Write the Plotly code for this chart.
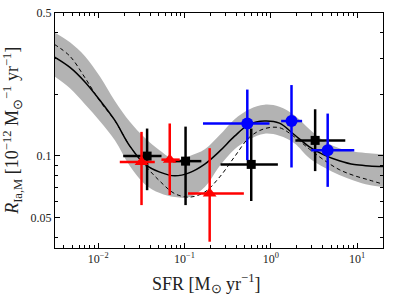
import plotly.graph_objects as go
import math

# ---- model curves ----
sfr_grid = [0.0031, 0.00471, 0.00703, 0.01048, 0.01562, 0.0233, 0.0347, 0.0518, 0.0772,
            0.115, 0.172, 0.256, 0.381, 0.568, 0.847, 1.26, 1.88, 2.81, 4.18, 6.23,
            9.29, 13.9, 20.0]
model_solid = [0.305, 0.271, 0.230, 0.187, 0.149, 0.1115, 0.0911, 0.0832, 0.0798, 0.0828,
               0.0911, 0.1054, 0.1248, 0.1429, 0.148, 0.1445, 0.1268, 0.1106, 0.1008,
               0.0946, 0.0906, 0.0893, 0.0886]
model_dashed = [0.3515, 0.3072, 0.2411, 0.1851, 0.1486, 0.1115, 0.0901, 0.0752, 0.0653,
                0.0628, 0.0665, 0.0788, 0.0990, 0.1234, 0.1358, 0.1373, 0.1239, 0.1078,
                0.0951, 0.0856, 0.0800, 0.0761, 0.0727]
band_upper = [0.4024, 0.3594, 0.3072, 0.2444, 0.1855, 0.1468, 0.1225, 0.1061, 0.0958,
              0.0999, 0.1077, 0.1263, 0.1512, 0.1692, 0.1779, 0.1740, 0.1581, 0.1351,
              0.1180, 0.1090, 0.1048, 0.1031, 0.1019]
band_lower = [0.2452, 0.2142, 0.1789, 0.1478, 0.1193, 0.0891, 0.0727, 0.0657, 0.0628,
              0.0628, 0.0703, 0.0891, 0.1078, 0.1207, 0.1284, 0.1255, 0.1154, 0.0974,
              0.0876, 0.0805, 0.0756, 0.0719, 0.0703]

# ---- black squares ----
sq_x = [0.0369, 0.103, 0.594, 3.27]
sq_y = [0.0997, 0.0942, 0.0908, 0.119]
sq_x_lo = [0.0195, 0.0738, 0.262, 1.93]
sq_x_hi = [0.0542, 0.157, 1.21, 7.31]
sq_y_lo = [0.0679, 0.0574, 0.0601, 0.0842]
sq_y_hi = [0.136, 0.139, 0.136, 0.169]

# ---- red triangles ----
tr_x = [0.0318, 0.0675, 0.196]
tr_y = [0.0932, 0.0958, 0.0655]
tr_x_lo = [0.0178, 0.0541, 0.110]
tr_x_hi = [0.0453, 0.0881, 0.488]
tr_y_lo = [0.0574, 0.0643, 0.038]
tr_y_hi = [0.131, 0.144, 0.109]

# ---- blue circles ----
ci_x = [0.535, 1.74, 4.57]
ci_y = [0.144, 0.148, 0.1066]
ci_x_lo = [0.164, 1.32, 2.94]
ci_x_hi = [0.968, 2.31, 9.29]
ci_y_lo = [0.0953, 0.0877, 0.0705]
ci_y_hi = [0.211, 0.222, 0.161]

x_tickvals = [0.01, 0.1, 1, 10]
x_ticktext = ["10<sup>−2</sup>", "10<sup>−1</sup>", "10<sup>0</sup>", "10<sup>1</sup>"]
y_tickvals = [0.05, 0.1, 0.5]
y_ticktext = ["0.05", "0.1", "0.5"]
x_minor = [m * 10 ** e for e in (-3, -2, -1, 0, 1) for m in range(2, 10)
           if m * 10 ** e <= 20]
y_minor = [0.04, 0.06, 0.07, 0.08, 0.09, 0.2, 0.3, 0.4]

SERIF = "Liberation Serif"

fig = go.Figure()

fig.add_trace(go.Scatter(x=sfr_grid, y=band_upper, mode="lines",
                         line=dict(width=0, color="rgba(0,0,0,0)", shape="spline"),
                         showlegend=False, hoverinfo="skip"))
fig.add_trace(go.Scatter(x=sfr_grid, y=band_lower, mode="lines", fill="tonexty",
                         fillcolor="#b3b3b3",
                         line=dict(width=0, color="rgba(0,0,0,0)", shape="spline"),
                         showlegend=False, hoverinfo="skip"))
fig.add_trace(go.Scatter(x=sfr_grid, y=model_dashed, mode="lines",
                         line=dict(color="black", width=1, dash="4px,3px", shape="spline"),
                         showlegend=False))
fig.add_trace(go.Scatter(x=sfr_grid, y=model_solid, mode="lines",
                         line=dict(color="black", width=1.5, shape="spline"),
                         showlegend=False))


def add_points(xs, ys, xlo, xhi, ylo, yhi, color, symbol, size):
    fig.add_trace(go.Scatter(
        x=xs, y=ys, mode="markers",
        marker=dict(color=color, symbol=symbol, size=size, line=dict(width=0)),
        error_x=dict(type="data", symmetric=False,
                     array=[h - v for h, v in zip(xhi, xs)],
                     arrayminus=[v - l for l, v in zip(xlo, xs)],
                     color=color, thickness=2.5, width=0),
        error_y=dict(type="data", symmetric=False,
                     array=[h - v for h, v in zip(yhi, ys)],
                     arrayminus=[v - l for l, v in zip(ylo, ys)],
                     color=color, thickness=2.5, width=0),
        showlegend=False))


add_points(sq_x, sq_y, sq_x_lo, sq_x_hi, sq_y_lo, sq_y_hi, "black", "square", 9)
add_points(tr_x, tr_y, tr_x_lo, tr_x_hi, tr_y_lo, tr_y_hi, "#ff0000", "triangle-up", 12)
add_points(ci_x, ci_y, ci_x_lo, ci_x_hi, ci_y_lo, ci_y_hi, "#0000ff", "circle", 12)

axis_common = dict(type="log", showgrid=False, zeroline=False, showline=True,
                   linecolor="black", linewidth=1, mirror="allticks", automargin=False,
                   ticks="inside", ticklen=5, tickcolor="black", tickwidth=1,
                   tickfont=dict(family=SERIF, size=12, color="#222"))

fig.update_layout(
    width=395, height=296,
    margin=dict(l=55, r=12, t=13, b=48, autoexpand=False),
    paper_bgcolor="white", plot_bgcolor="white",
    xaxis=dict(range=[math.log10(0.00316), math.log10(20)],
               tickmode="array", tickvals=x_tickvals, ticktext=x_ticktext,
               minor=dict(tickmode="array", tickvals=x_minor, ticks="inside",
                          ticklen=3, tickcolor="black"),
               **axis_common),
    yaxis=dict(range=[math.log10(0.0354), math.log10(0.5)],
               tickmode="array", tickvals=y_tickvals, ticktext=y_ticktext,
               minor=dict(tickmode="array", tickvals=y_minor, ticks="inside",
                          ticklen=3, tickcolor="black"),
               **axis_common),
    annotations=[
        dict(text="SFR [M<sub>⊙</sub> yr<sup>−1</sup>]", xref="paper", yref="paper",
             x=0.46, y=-0.15, xanchor="center", yanchor="middle", showarrow=False,
             font=dict(family=SERIF, size=18, color="#222")),
        dict(text="<i>R</i><sub>Ia,M</sub> [10<sup>−12</sup> M<sub>⊙</sub><sup>−1</sup> yr<sup>−1</sup>]",
             xref="paper", yref="paper", x=-0.13, y=0.5, textangle=-90,
             xanchor="center", yanchor="middle", showarrow=False,
             font=dict(family=SERIF, size=18, color="#222")),
    ],
)

fig.write_html("out.html", config={"displayModeBar": False},
               post_script="document.body.style.margin='0';document.body.style.overflow='hidden';")
